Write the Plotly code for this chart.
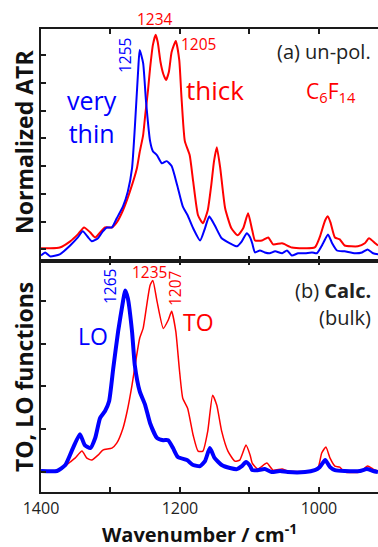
import plotly.graph_objects as go

# ---- data (wavenumber in cm-1, normalized intensity) ----
thick_wn = [1400, 1387, 1373, 1358, 1347, 1338, 1329, 1322, 1308, 1298, 1291, 1282, 1272, 1262, 1258, 1253,
            1250, 1246, 1243, 1239, 1235, 1232, 1228, 1224, 1220, 1216, 1212, 1206, 1201, 1198, 1193, 1186,
            1181, 1174, 1167, 1160, 1155, 1151, 1147, 1142, 1135, 1126, 1117, 1109, 1102, 1096, 1092, 1082,
            1073, 1066, 1053, 1039, 1006, 999, 991, 987, 983, 977, 970, 963, 944, 934, 928, 919, 915]
thick_atr = [0.004, 0.004, 0.007, 0.029, 0.054, 0.079, 0.061, 0.043, 0.079, 0.079, 0.097, 0.141, 0.209, 0.292,
             0.350, 0.412, 0.484, 0.574, 0.653, 0.736, 0.773, 0.747, 0.675, 0.632, 0.610, 0.639, 0.711, 0.751,
             0.682, 0.556, 0.390, 0.339, 0.245, 0.123, 0.094, 0.141, 0.231, 0.318, 0.368, 0.292, 0.148, 0.076,
             0.051, 0.076, 0.130, 0.069, 0.032, 0.032, 0.043, 0.018, 0.022, 0.007, 0.007, 0.043, 0.105, 0.119,
             0.094, 0.043, 0.036, 0.014, 0.011, 0.022, 0.040, 0.022, 0.014]

thin_wn = [1400, 1394, 1387, 1373, 1358, 1347, 1340, 1332, 1327, 1318, 1311, 1305, 1298, 1291, 1282, 1275,
           1269, 1265, 1260, 1258, 1253, 1249, 1243, 1239, 1233, 1226, 1219, 1212, 1204, 1196, 1189, 1181,
           1171, 1164, 1158, 1150, 1140, 1128, 1118, 1111, 1104, 1099, 1096, 1092, 1085, 1078, 1071, 1063,
           1053, 1046, 1039, 1030, 1020, 1010, 1003, 994, 987, 981, 974, 963, 948, 938, 930, 922, 915]
thin_atr = [-0.022, -0.011, -0.025, -0.018, 0.014, 0.043, 0.065, 0.043, 0.029, 0.040, 0.065, 0.079, 0.079,
            0.112, 0.155, 0.209, 0.292, 0.437, 0.653, 0.718, 0.671, 0.538, 0.390, 0.354, 0.339, 0.310, 0.318,
            0.300, 0.231, 0.155, 0.123, 0.076, 0.032, 0.076, 0.119, 0.087, 0.040, 0.022, 0.011, 0.029, 0.058,
            0.043, 0.022, -0.011, -0.004, -0.011, -0.014, -0.007, -0.014, -0.004, -0.022, -0.014, -0.014,
            -0.011, -0.014, 0.022, 0.054, 0.022, -0.004, -0.007, -0.014, -0.011, 0.000, -0.014, -0.018]

lo_wn = [1400, 1377, 1365, 1354, 1344, 1337, 1329, 1322, 1315, 1308, 1302, 1296, 1289, 1282, 1279, 1275,
         1269, 1265, 1258, 1250, 1243, 1233, 1224, 1217, 1210, 1203, 1190, 1181, 1171, 1164, 1157, 1150,
         1140, 1128, 1118, 1111, 1105, 1099, 1096, 1088, 1078, 1068, 1056, 1045, 1020, 1006, 999, 991,
         984, 977, 963, 941, 931, 922, 915]
lo_val = [0.005, 0.005, 0.033, 0.112, 0.177, 0.126, 0.112, 0.159, 0.252, 0.284, 0.331, 0.485, 0.657, 0.797,
          0.848, 0.811, 0.657, 0.499, 0.378, 0.312, 0.228, 0.159, 0.149, 0.149, 0.112, 0.070, 0.056, 0.033,
          0.028, 0.051, 0.112, 0.065, 0.033, 0.019, 0.014, 0.028, 0.047, 0.028, 0.009, 0.009, 0.014, 0.000,
          0.005, 0.000, 0.000, 0.009, 0.023, 0.056, 0.023, 0.009, 0.005, 0.005, 0.014, 0.005, 0.000]

to_wn = [1400, 1373, 1358, 1351, 1341, 1334, 1327, 1318, 1311, 1298, 1291, 1282, 1276, 1269, 1263, 1258,
         1253, 1247, 1243, 1239, 1233, 1224, 1217, 1212, 1206, 1201, 1196, 1189, 1181, 1174, 1167, 1160,
         1153, 1147, 1140, 1131, 1121, 1114, 1105, 1099, 1096, 1088, 1075, 1066, 1053, 1045, 1010, 1001,
         996, 990, 984, 977, 970, 963, 941, 930, 922, 915]
to_val = [0.005, 0.009, 0.047, 0.065, 0.098, 0.065, 0.056, 0.079, 0.103, 0.112, 0.135, 0.205, 0.284, 0.406,
          0.531, 0.625, 0.671, 0.797, 0.872, 0.895, 0.797, 0.671, 0.709, 0.751, 0.657, 0.485, 0.345, 0.298,
          0.172, 0.098, 0.098, 0.191, 0.359, 0.312, 0.191, 0.098, 0.051, 0.056, 0.126, 0.079, 0.042, 0.014,
          0.042, 0.009, 0.014, 0.005, 0.005, 0.023, 0.089, 0.117, 0.065, 0.028, 0.023, 0.000, 0.000, 0.028,
          0.014, 0.005]

x_label_ticks = [1400, 1200, 1000]
top_y_ticks = [0, 0.1, 0.2, 0.3, 0.4, 0.5, 0.6, 0.7]
bot_y_ticks = [0, 0.2, 0.4, 0.6, 0.8]

RED = "#ff0000"
BLUE = "#0000ff"
AX = "#1a1a1a"
FONT = "Open Sans"

fig = go.Figure()
fig.add_trace(go.Scatter(x=thick_wn, y=thick_atr, mode="lines", xaxis="x2", yaxis="y2",
                         line=dict(color=RED, width=2, shape="spline", smoothing=0.5)))
fig.add_trace(go.Scatter(x=thin_wn, y=thin_atr, mode="lines", xaxis="x2", yaxis="y2",
                         line=dict(color=BLUE, width=2, shape="spline", smoothing=0.5)))
fig.add_trace(go.Scatter(x=to_wn, y=to_val, mode="lines", xaxis="x", yaxis="y",
                         line=dict(color=RED, width=1.5, shape="spline", smoothing=0.5)))
fig.add_trace(go.Scatter(x=lo_wn, y=lo_val, mode="lines", xaxis="x", yaxis="y",
                         line=dict(color=BLUE, width=4, shape="spline", smoothing=0.5)))

xcommon = dict(range=[1400, 915], tickmode="array", tickvals=x_label_ticks,
               ticks="inside", ticklen=5, tickwidth=1.5, tickcolor=AX, showline=True, linecolor=AX,
               linewidth=1.5, mirror="allticks", showgrid=False, zeroline=False,
               minor=dict(ticks="inside", ticklen=5, tickwidth=1.5, tickcolor=AX, dtick=100,
                          tick0=1000, showgrid=False))
ycommon = dict(ticks="inside", ticklen=5, tickwidth=1.5, tickcolor=AX, showline=True, linecolor=AX,
               linewidth=1.5, mirror=False, showgrid=False, zeroline=False, showticklabels=False)

fig.update_layout(
    width=378, height=547,
    margin=dict(l=41, r=0, t=29, b=55),
    paper_bgcolor="white", plot_bgcolor="white",
    showlegend=False,
    font=dict(family=FONT, color=AX),
    xaxis=dict(**xcommon, anchor="y", showticklabels=True,
               tickfont=dict(size=16, color="#222222", family=FONT), ticklabelstandoff=1),
    yaxis=dict(**ycommon, domain=[0, 0.5], range=[-0.093, 0.988], tickvals=bot_y_ticks, anchor="x"),
    xaxis2=dict(**xcommon, anchor="y2", showticklabels=False),
    yaxis2=dict(**ycommon, domain=[0.5, 1], range=[-0.04, 0.794], tickvals=top_y_ticks, anchor="x2"),
)


def px(xp):
    return (xp - 41) / 337.0


def py(yp):
    return (492 - yp) / 463.0


def ann(text, x, y, color, size, angle=0, xanchor="center", bold=False):
    if bold:
        text = "<b>" + text + "</b>"
    fig.add_annotation(text=text, xref="paper", yref="paper", x=px(x), y=py(y), showarrow=False,
                       xanchor=xanchor, yanchor="middle", textangle=angle, borderpad=0,
                       font=dict(family=FONT, size=size, color=color))


# top panel labels
ann("1234", 155, 19, RED, 15.5)
ann("1255", 125, 56, BLUE, 15.5, angle=-90)
ann("1205", 180, 44, RED, 15.5, xanchor="left")
ann("(a) un-pol.", 372, 52, "#222222", 20, xanchor="right")
ann("very<br>thin", 66, 116, BLUE, 25, xanchor="left")
ann("thick", 185, 90, RED, 26, xanchor="left")
ann("C<sub>6</sub>F<sub>14</sub>", 305, 92, RED, 21, xanchor="left")

# bottom panel labels
ann("1265", 110, 287, BLUE, 15.5, angle=-90)
ann("1235", 149, 272, RED, 15.5)
ann("1207", 175, 288, RED, 15.5, angle=-90)
ann("LO", 93, 336, BLUE, 23)
ann("TO", 198, 322, RED, 23)
ann("(b) <b>Calc.</b>", 372, 290, "#222222", 20, xanchor="right")
ann("(bulk)", 372, 317, "#222222", 20, xanchor="right")

# axis titles
ann("Normalized ATR", 24, 142, "#111111", 23, angle=-90, bold=True)
ann("TO, LO functions", 24, 377, "#111111", 23, angle=-90, bold=True)
ann("Wavenumber / cm<sup>-1</sup>", 199, 533, "#111111", 20, bold=True)

fig.write_html("out.html")
